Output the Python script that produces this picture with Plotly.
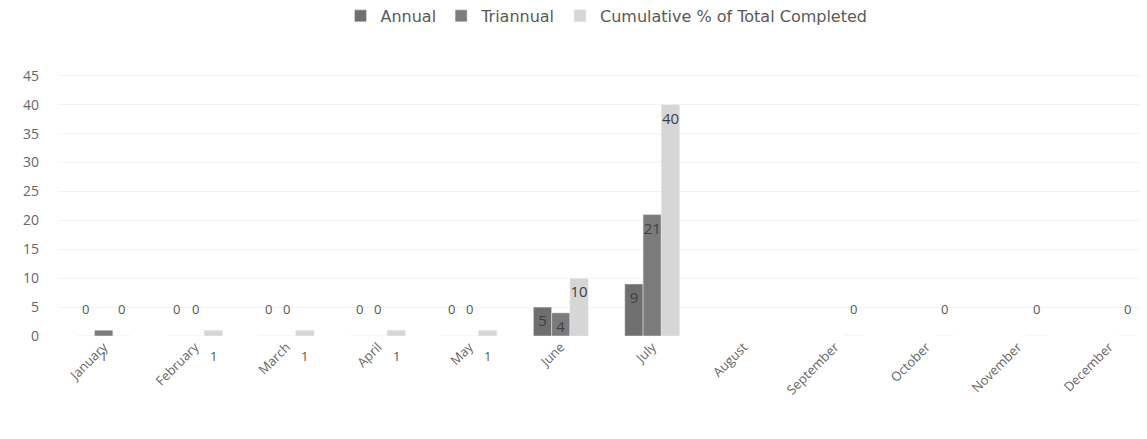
import plotly.graph_objects as go

months = ["January", "February", "March", "April", "May", "June", "July",
          "August", "September", "October", "November", "December"]
annual = [0, 0, 0, 0, 0, 5, 9, None, None, None, None, None]
triannual = [1, 0, 0, 0, 0, 4, 21, None, None, None, None, None]
cumulative = [0, 1, 1, 1, 1, 10, 40, None, 0, 0, 0, 0]

series = [
    ("Annual", annual, "#6f6f6f"),
    ("Triannual", triannual, "#7b7b7b"),
    ("Cumulative % of Total Completed", cumulative, "#d6d6d6"),
]

fig = go.Figure()
annotations = []
offsets = [-0.2, 0.0, 0.2]
for k, (name, vals, color) in enumerate(series):
    texts = [str(v) if (v is not None and v > 1) else "" for v in vals]
    fig.add_trace(go.Bar(
        name=name, x=months, y=vals, marker_color=color,
        text=texts, textposition="inside", insidetextanchor="end",
        constraintext="none",
        textfont=dict(family="Open Sans", size=15, color="#404040"),
        textangle=0, cliponaxis=False,
    ))
    for i, v in enumerate(vals):
        if v is None:
            continue
        if v == 0:
            annotations.append(dict(x=i + offsets[k], y=0, xref="x", yref="y",
                                    text="0", showarrow=False, yshift=27,
                                    font=dict(family="Open Sans", size=13, color="#555555")))
        elif v == 1:
            annotations.append(dict(x=i + offsets[k], y=0, xref="x", yref="y",
                                    text="1", showarrow=False, yshift=-20,
                                    font=dict(family="Open Sans", size=13, color="#555555")))

fig.update_layout(
    width=1147, height=439,
    margin=dict(l=50, r=0, t=65, b=111, autoexpand=False),
    paper_bgcolor="white", plot_bgcolor="white",
    barmode="group", bargap=0.4, bargroupgap=0,
    font=dict(family="Open Sans", color="#595959"),
    legend=dict(orientation="h", x=0.5, xanchor="center", y=1.217, yanchor="middle",
                font=dict(family="DejaVu Sans", size=16, color="#595959"),
                traceorder="normal"),
    annotations=annotations,
    showlegend=True,
)
fig.update_yaxes(range=[0, 45.5], tickvals=list(range(0, 50, 5)),
                 showgrid=True, gridcolor="#f3f3f3", zeroline=False,
                 tickfont=dict(size=14, color="#666666"), ticks="", showline=False,
                 ticklabelstandoff=18)
fig.update_xaxes(tickangle=-45, tickfont=dict(size=13, color="#666666"),
                 showline=False, ticks="", showgrid=False)

fig.write_html("out.html")
